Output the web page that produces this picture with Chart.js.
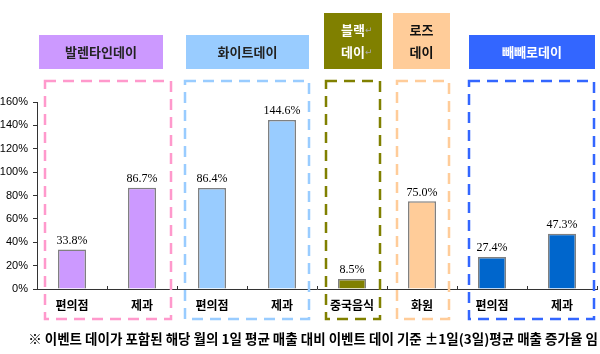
<!DOCTYPE html>
<html>
<head>
<meta charset="utf-8">
<script src="https://cdn.jsdelivr.net/npm/chart.js@4.4.1/dist/chart.umd.min.js"></script>
<style>
  html, body { margin: 0; padding: 0; background: #fff; }
  #wrap { width: 600px; height: 354px; position: relative; }
</style>
</head>
<body>
<div id="wrap"><canvas id="chart" width="600" height="354"></canvas></div>
<script>
// 카테고리와 값
const categories = ["편의점", "제과", "편의점", "제과", "중국음식", "화원", "편의점", "제과"];
const values = [33.8, 86.7, 86.4, 144.6, 8.5, 75.0, 27.4, 47.3];
const valueLabels = ["33.8%", "86.7%", "86.4%", "144.6%", "8.5%", "75.0%", "27.4%", "47.3%"];
const yTicks = [0, 20, 40, 60, 80, 100, 120, 140, 160];

// 이벤트 그룹 (이름 줄, 시작 인덱스, 개수)
const groupNames = [["발렌타인데이"], ["화이트데이"], ["블랙", "데이"], ["로즈", "데이"], ["빼빼로데이"]];
const groupStart = [0, 2, 4, 5, 6];
const groupCount = [2, 2, 1, 1, 2];
const footNote = "※ 이벤트 데이가 포함된 해당 월의 1일 평균 매출 대비 이벤트 데이 기준 ±1일(3일)평균 매출 증가율 임";

// 그룹 스타일
const groupStyles = [
  { fill: "#CC99FF", dash: "#FF99CC", text: "#222", bar: "#CC99FF", box: [8, 6], head: [2, 14], arrow: false },
  { fill: "#99CCFF", dash: "#99CCFF", text: "#222", bar: "#99CCFF", box: [8, 8], head: [9, 8], arrow: false },
  { fill: "#808000", dash: "#808000", text: "#fff", bar: "#808000", box: [9, 7], head: [7, 5], arrow: true },
  { fill: "#FFCC99", dash: "#FFCC99", text: "#111", bar: "#FFCC99", box: [10, 8], head: [6, 7], arrow: false },
  { fill: "#3366FF", dash: "#3366FF", text: "#fff", bar: "#0066CC", box: [12, 3], head: [12, 2], arrow: false }
];

const barColors = [];
groupStart.forEach((s, g) => {
  for (let i = 0; i < groupCount[g]; i++) barColors.push(groupStyles[g].bar);
});

const KR = "'Noto Sans CJK KR', 'Noto Sans', sans-serif";

// 막대 위 값 표시 + 그룹 박스, 머리글, 주석
const overlay = {
  id: "overlay",
  afterDraw(chart) {
    const ctx = chart.ctx;
    const x = chart.scales.x;
    const y = chart.scales.y;
    const bottom = y.getPixelForValue(0);

    // x축 안쪽 눈금
    ctx.save();
    ctx.strokeStyle = "#333";
    ctx.lineWidth = 1;
    for (let i = 0; i <= categories.length; i++) {
      const px = Math.round(x.getPixelForValue(i - 0.5)) + 0.5;
      ctx.beginPath();
      ctx.moveTo(px, bottom - 3);
      ctx.lineTo(px, bottom);
      ctx.stroke();
    }
    ctx.restore();

    // 값 라벨
    const meta = chart.getDatasetMeta(0);
    ctx.save();
    ctx.font = "12px 'Liberation Serif', serif";
    ctx.fillStyle = "#000";
    ctx.textAlign = "center";
    ctx.textBaseline = "bottom";
    meta.data.forEach((bar, i) => {
      ctx.fillText(valueLabels[i], bar.x, bar.y - 3);
    });
    ctx.restore();

    // 그룹 박스와 머리글
    groupStart.forEach((s, g) => {
      const st = groupStyles[g];
      const left = x.getPixelForValue(s - 0.5);
      const right = x.getPixelForValue(s + groupCount[g] - 0.5);

      ctx.save();
      ctx.strokeStyle = st.dash;
      ctx.lineWidth = 2.5;
      ctx.setLineDash([11, 7]);
      ctx.strokeRect(left + st.box[0], 81, right - left - st.box[0] - st.box[1], 238);
      ctx.restore();

      const lines = groupNames[g];
      const top = lines.length > 1 ? 13 : 35;
      const hx = left + st.head[0];
      const hw = right - left - st.head[0] - st.head[1];
      ctx.save();
      ctx.fillStyle = st.fill;
      ctx.fillRect(hx, top, hw, 69 - top);
      ctx.font = "bold 13px " + KR;
      ctx.fillStyle = st.text;
      ctx.textAlign = "center";
      ctx.textBaseline = "middle";
      const cx = hx + hw / 2;
      if (lines.length === 1) {
        ctx.fillText(lines[0], cx, 52);
      } else {
        lines.forEach((t, k) => {
          const ty = k === 0 ? 30 : 52;
          ctx.fillStyle = st.text;
          ctx.fillText(t, cx, ty);
          if (st.arrow) {
            const w = ctx.measureText(t).width;
            ctx.save();
            ctx.font = "9px 'DejaVu Sans', sans-serif";
            ctx.fillStyle = "#aaa";
            ctx.textAlign = "left";
            ctx.fillText("↵", cx + w / 2, ty + 1);
            ctx.restore();
          }
        });
      }
      ctx.restore();
    });

    // 주석
    ctx.save();
    ctx.font = "bold 13.5px " + KR;
    ctx.fillStyle = "#000";
    ctx.textAlign = "center";
    ctx.textBaseline = "middle";
    ctx.fillText(footNote, 313, 339);
    ctx.restore();
  }
};

new Chart(document.getElementById("chart"), {
  type: "bar",
  data: {
    labels: categories,
    datasets: [{
      data: values,
      backgroundColor: barColors,
      borderColor: "#808080",
      borderWidth: 1.5,
      borderSkipped: "bottom",
      categoryPercentage: 1,
      barPercentage: 0.4
    }]
  },
  options: {
    responsive: false,
    animation: false,
    devicePixelRatio: 1,
    layout: { padding: { top: 102, left: 0, right: 3, bottom: 0 } },
    plugins: { legend: { display: false }, tooltip: { enabled: false } },
    scales: {
      x: {
        afterFit(scale) { scale.height = 65; },
        grid: { drawOnChartArea: false, drawTicks: false },
        border: { color: "#333", width: 1 },
        ticks: {
          padding: 9,
          color: "#000",
          font: { family: KR, size: 12, weight: "bold" },
          maxRotation: 0,
          autoSkip: false
        }
      },
      y: {
        min: 0,
        max: 160,
        afterFit(scale) { scale.width = 37; },
        afterBuildTicks(scale) { scale.ticks = yTicks.map(v => ({ value: v })); },
        grid: { drawOnChartArea: false, drawTicks: true, tickLength: 4, color: "#333" },
        border: { color: "#333", width: 1 },
        ticks: {
          padding: 5,
          color: "#000",
          font: { family: "'Liberation Sans', Arial, sans-serif", size: 11 },
          callback: v => v + "%"
        }
      }
    }
  },
  plugins: [overlay]
});
</script>
</body>
</html>
